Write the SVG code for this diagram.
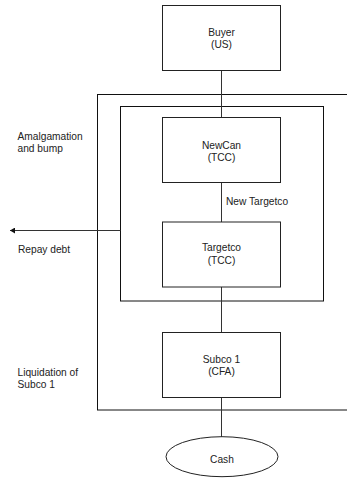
<svg xmlns="http://www.w3.org/2000/svg" width="347" height="487" viewBox="0 0 347 487">
<style>
.box{fill:#fff;stroke:#222;stroke-width:1}
.frame{fill:none;stroke:#111;stroke-width:1}
.ln{stroke:#333;stroke-width:1;fill:none}
text{font-family:"Liberation Sans",Arial,sans-serif;font-size:10.2px;fill:#222}
.c{text-anchor:middle}
</style>
<defs>
<marker id="ah" markerWidth="6" markerHeight="6" refX="5" refY="3" orient="auto" markerUnits="userSpaceOnUse">
<path d="M0,0 L5,3 L0,6 Z" fill="#111"/>
</marker>
</defs>
<g id="frames">
<rect class="frame" x="97.5" y="94.5" width="260" height="315.5"/>
<rect class="frame" x="120.5" y="106.5" width="203" height="194.5"/>
</g>
<g id="connectors">
<line class="ln" x1="221.5" y1="70.5" x2="221.5" y2="117.5"/>
<line class="ln" x1="221.5" y1="182.5" x2="221.5" y2="222"/>
<line class="ln" x1="221.5" y1="287" x2="221.5" y2="333"/>
<line class="ln" x1="221.5" y1="397.5" x2="221.5" y2="437"/>
<line class="ln" x1="120.5" y1="230.5" x2="10" y2="230.5" stroke="#111" marker-end="url(#ah)"/>
</g>
<g id="buyer">
<rect class="box" x="162.5" y="5.5" width="118" height="65"/>
<text class="c" x="221.5" y="36">Buyer</text>
<text class="c" x="221.5" y="48">(US)</text>
</g>
<g id="newcan">
<rect class="box" x="162.5" y="117.5" width="118" height="65"/>
<text class="c" x="221.5" y="149">NewCan</text>
<text class="c" x="221.5" y="161">(TCC)</text>
</g>
<g id="targetco">
<rect class="box" x="162.5" y="222" width="118" height="65"/>
<text class="c" x="221.5" y="251">Targetco</text>
<text class="c" x="221.5" y="263.5">(TCC)</text>
</g>
<g id="subco1">
<rect class="box" x="162.5" y="332.5" width="118" height="65"/>
<text class="c" x="221.5" y="362.5">Subco 1</text>
<text class="c" x="221.5" y="375">(CFA)</text>
</g>
<g id="cash">
<ellipse class="box" cx="222" cy="456.7" rx="56" ry="20"/>
<text class="c" x="222" y="463">Cash</text>
</g>
<g id="labels">
<text x="17.5" y="140">Amalgamation</text>
<text x="17.5" y="152">and bump</text>
<text x="226" y="205">New Targetco</text>
<text x="18" y="252.5">Repay debt</text>
<text x="17.5" y="376">Liquidation of</text>
<text x="17.5" y="387.5">Subco 1</text>
</g>
</svg>
